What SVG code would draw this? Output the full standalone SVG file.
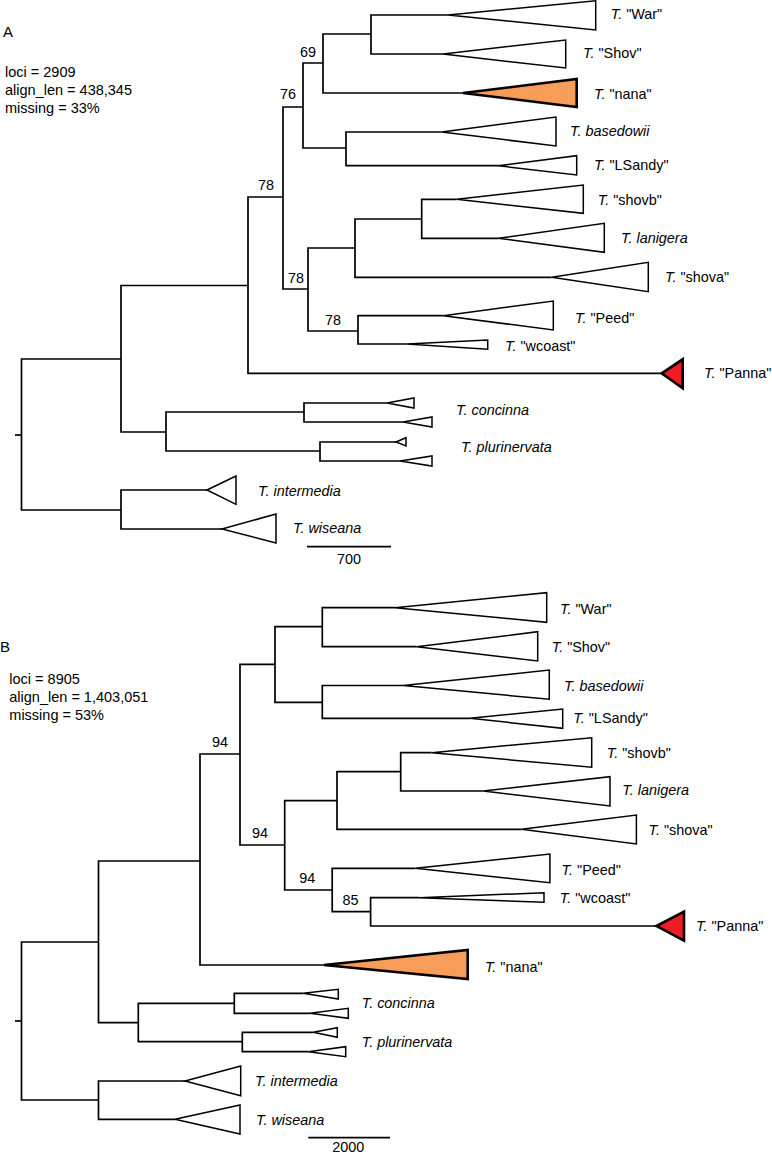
<svg xmlns="http://www.w3.org/2000/svg" width="772" height="1154" viewBox="0 0 772 1154">
<style>
text{font-family:"Liberation Sans",Arial,sans-serif;font-size:14.4px;fill:#000}
.it{font-style:italic}
.br{fill:none;stroke:#000;stroke-width:1.7;stroke-linejoin:miter;stroke-linecap:butt}
.tri{fill:#fff;stroke:#000;stroke-width:1.5;stroke-linejoin:miter}
.nana{fill:#F89C5A;stroke:#000;stroke-width:2.6;stroke-linejoin:miter}
.panna{fill:#EE1D23;stroke:#000;stroke-width:2.6;stroke-linejoin:miter}
.hdr{font-size:15px}
.info{font-size:14.5px}
</style>
<rect width="772" height="1154" fill="#fff"/>

<g id="panelA-header">
<text class="hdr" x="3" y="37">A</text>
<text class="info" x="5" y="77">loci = 2909</text>
<text class="info" x="5" y="95">align_len = 438,345</text>
<text class="info" x="5" y="113">missing = 33%</text>
</g>

<g id="connectors">
<!-- Panel A -->
<path class="br" d="M15,435 H21.5"/>
<path class="br" d="M121,359 H21.5 V510 H121"/>
<path class="br" d="M248,285.5 H121 V432 H166"/>
<path class="br" d="M283,197 H248 V373.3 H661.7"/>
<path class="br" d="M303,107 H283 V289 H308"/>
<path class="br" d="M323,63 H303 V148 H346"/>
<path class="br" d="M371,34 H323 V93 H463"/>
<path class="br" d="M448,15 H371 V54 H443"/>
<path class="br" d="M441.7,132 H346 V165.7 H498"/>
<path class="br" d="M355,248 H308 V331 H358"/>
<path class="br" d="M421.7,219 H355 V277.3 H551.7"/>
<path class="br" d="M456.7,199.3 H421.7 V238.3 H498.3"/>
<path class="br" d="M443.3,315.7 H358 V344 H406.7"/>
<path class="br" d="M304,412 H166 V451 H320"/>
<path class="br" d="M387,403 H304 V422 H403"/>
<path class="br" d="M396,442 H320 V461 H400"/>
<path class="br" d="M207,490 H121 V529 H222"/>
<!-- Panel B -->
<path class="br" d="M15,1021 H21.5"/>
<path class="br" d="M98.5,942 H21.5 V1100 H98.5"/>
<path class="br" d="M200,861 H98.5 V1022.7 H138.3"/>
<path class="br" d="M240,754 H200 V965 H324"/>
<path class="br" d="M275,664.3 H240 V845 H284.7"/>
<path class="br" d="M322.3,626.7 H275 V702.3 H322.3"/>
<path class="br" d="M395,607.7 H322.3 V646.7 H416.7"/>
<path class="br" d="M403.3,685.5 H322.3 V718.3 H470"/>
<path class="br" d="M337,800.7 H284.7 V890 H332.2"/>
<path class="br" d="M400.7,771.7 H337 V829.3 H521.4"/>
<path class="br" d="M431.7,752.7 H400.7 V791 H483.3"/>
<path class="br" d="M415.5,868.3 H332.2 V911.7 H370.6"/>
<path class="br" d="M419,897.7 H370.6 V926 H656.5"/>
<path class="br" d="M234.3,1003.3 H138.3 V1041.7 H242.3"/>
<path class="br" d="M303.3,993.3 H234.3 V1013.3 H310"/>
<path class="br" d="M313.3,1032.3 H242.3 V1051.7 H308.3"/>
<path class="br" d="M185,1081 H98.5 V1119.3 H175"/>
</g>

<g id="bootstrapA">
<text x="300" y="57">69</text>
<text x="280" y="99">76</text>
<text x="258" y="190">78</text>
<text x="288" y="283">78</text>
<text x="325" y="325">78</text>
</g>

<g id="A-War"><polygon class="tri" points="448,15 595.7,0.8 595.7,30"/><text x="610.7" y="18.5"><tspan class="it">T.</tspan> "War"</text></g>
<g id="A-Shov"><polygon class="tri" points="443,54 565.7,40 565.7,68"/><text x="583" y="58"><tspan class="it">T.</tspan> "Shov"</text></g>
<g id="A-nana"><polygon class="nana" points="463,93 576.7,79 576.7,107"/><text x="594" y="99"><tspan class="it">T.</tspan> "nana"</text></g>
<g id="A-basedowii"><polygon class="tri" points="441.7,132 556,117 556,146"/><text class="it" x="570" y="136">T. basedowii</text></g>
<g id="A-LSandy"><polygon class="tri" points="498,165.7 576.7,155.7 576.7,175"/><text x="594" y="170"><tspan class="it">T.</tspan> "LSandy"</text></g>
<g id="A-shovb"><polygon class="tri" points="456.7,199.3 583.3,185 583.3,213.3"/><text x="597.7" y="205"><tspan class="it">T.</tspan> "shovb"</text></g>
<g id="A-lanigera"><polygon class="tri" points="498.3,238.3 604.3,223.3 604.3,252.3"/><text class="it" x="621" y="242.7">T. lanigera</text></g>
<g id="A-shova"><polygon class="tri" points="551.7,277.3 648.3,262.3 648.3,291.7"/><text x="665" y="281.7"><tspan class="it">T.</tspan> "shova"</text></g>
<g id="A-Peed"><polygon class="tri" points="443.3,315.7 553.3,301 553.3,330"/><text x="575" y="322.7"><tspan class="it">T.</tspan> "Peed"</text></g>
<g id="A-wcoast"><polygon class="tri" points="406.7,344 487.7,340 487.7,349.3"/><text x="505" y="351"><tspan class="it">T.</tspan> "wcoast"</text></g>
<g id="A-Panna"><polygon class="panna" points="661.7,373.3 682.7,359.3 682.7,388.3"/><text x="704" y="378.3"><tspan class="it">T.</tspan> "Panna"</text></g>
<g id="A-concinna">
<polygon class="tri" points="387,403 414,398 414,408"/>
<polygon class="tri" points="403,422 432,417 432,427"/>
<text class="it" x="456" y="415">T. concinna</text></g>
<g id="A-plurinervata">
<polygon class="tri" points="396,442 406,437.7 406,446"/>
<polygon class="tri" points="400,461 432,456 432,466"/>
<text class="it" x="461" y="451.7">T. plurinervata</text></g>
<g id="A-intermedia"><polygon class="tri" points="207,490 236,476 236,504.3"/><text class="it" x="258" y="496">T. intermedia</text></g>
<g id="A-wiseana"><polygon class="tri" points="222,529 276,514 276,543"/><text class="it" x="293" y="533.3">T. wiseana</text></g>
<g id="A-scale"><path class="br" d="M307,546.7 H391" stroke-width="1.5"/><text x="349" y="564" text-anchor="middle">700</text></g>

<g id="panelB-header">
<text class="hdr" x="0" y="652">B</text>
<text class="info" x="9.3" y="684">loci = 8905</text>
<text class="info" x="9.3" y="702">align_len = 1,403,051</text>
<text class="info" x="9.3" y="720">missing = 53%</text>
</g>

<g id="bootstrapB">
<text x="212" y="746.7">94</text>
<text x="252" y="837.7">94</text>
<text x="299.3" y="883.3">94</text>
<text x="342.4" y="905">85</text>
</g>

<g id="B-War"><polygon class="tri" points="395,607.7 546.7,592.7 546.7,622.3"/><text x="560" y="614"><tspan class="it">T.</tspan> "War"</text></g>
<g id="B-Shov"><polygon class="tri" points="416.7,646.7 537.7,631.7 537.7,661"/><text x="551.7" y="651.7"><tspan class="it">T.</tspan> "Shov"</text></g>
<g id="B-basedowii"><polygon class="tri" points="403.3,685.5 549.3,670 549.3,699.3"/><text class="it" x="564" y="691">T. basedowii</text></g>
<g id="B-LSandy"><polygon class="tri" points="470,718.3 562.7,709 562.7,728.3"/><text x="573.3" y="723.3"><tspan class="it">T.</tspan> "LSandy"</text></g>
<g id="B-shovb"><polygon class="tri" points="431.7,752.7 591.7,737.7 591.7,767.3"/><text x="606.7" y="757.7"><tspan class="it">T.</tspan> "shovb"</text></g>
<g id="B-lanigera"><polygon class="tri" points="483.3,791 610,776.7 610,806"/><text class="it" x="622.3" y="795">T. lanigera</text></g>
<g id="B-shova"><polygon class="tri" points="521.4,829.3 636.4,815 636.4,844"/><text x="648.5" y="835"><tspan class="it">T.</tspan> "shova"</text></g>
<g id="B-Peed"><polygon class="tri" points="415.5,868.3 549.9,854 549.9,882.7"/><text x="561.6" y="875"><tspan class="it">T.</tspan> "Peed"</text></g>
<g id="B-wcoast"><polygon class="tri" points="419,897.7 544,892.7 544,902.3"/><text x="559.8" y="903.3"><tspan class="it">T.</tspan> "wcoast"</text></g>
<g id="B-Panna"><polygon class="panna" points="656.5,926 684,911.7 684,940.7"/><text x="696" y="931"><tspan class="it">T.</tspan> "Panna"</text></g>
<g id="B-nana"><polygon class="nana" points="324,965 467.7,950 467.7,979"/><text x="484.9" y="971.7"><tspan class="it">T.</tspan> "nana"</text></g>
<g id="B-concinna">
<polygon class="tri" points="303.3,993.3 338.3,989.3 338.3,999"/>
<polygon class="tri" points="310,1013.3 348.3,1008.3 348.3,1018.3"/>
<text class="it" x="361.7" y="1008.3">T. concinna</text></g>
<g id="B-plurinervata">
<polygon class="tri" points="313.3,1032.3 337.3,1027.7 337.3,1037.3"/>
<polygon class="tri" points="308.3,1051.7 345.7,1046.7 345.7,1056.7"/>
<text class="it" x="361.7" y="1046.7">T. plurinervata</text></g>
<g id="B-intermedia"><polygon class="tri" points="185,1081 240.7,1066 240.7,1095.7"/><text class="it" x="255" y="1085.7">T. intermedia</text></g>
<g id="B-wiseana"><polygon class="tri" points="175,1119.3 240,1105 240,1134"/><text class="it" x="256" y="1125">T. wiseana</text></g>
<g id="B-scale"><path class="br" d="M308.3,1137.7 H390" stroke-width="1.5"/><text x="348.3" y="1152" text-anchor="middle">2000</text></g>
</svg>
